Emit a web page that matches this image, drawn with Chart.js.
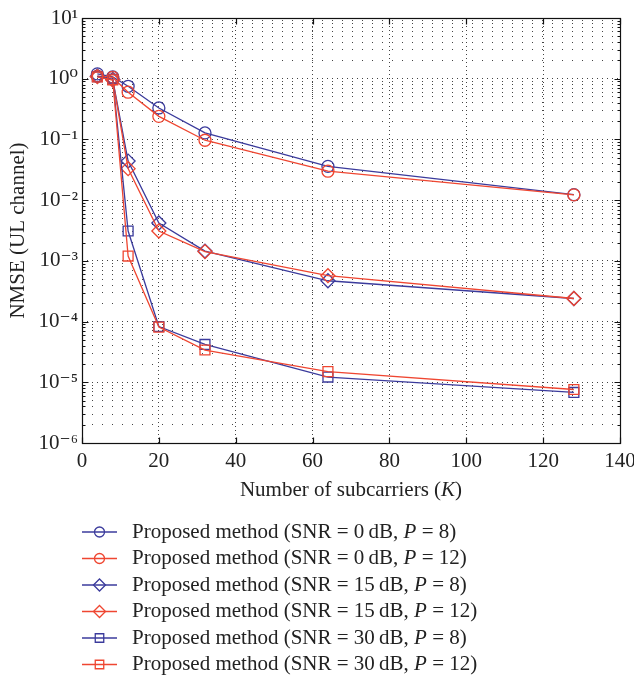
<!DOCTYPE html>
<html>
<head>
<meta charset="utf-8">
<script src="https://cdn.jsdelivr.net/npm/chart.js@4.4.1/dist/chart.umd.min.js"></script>
<style>
    html, body { margin: 0; padding: 0; background: #fff; }
    #quadro { width: 634px; height: 680px; position: relative; }
</style>
</head>
<body>
<div id="quadro"><canvas id="grafico"></canvas></div>
<script>
// numero de subportadoras K
const subportadoras = [4, 8, 12, 20, 32, 64, 128];

// NMSE do canal UL para cada curva
const snr0P8   = [1.2, 1.07, 0.75, 0.33, 0.128, 0.036, 0.0123];
const snr0P12  = [1.1, 1.05, 0.60, 0.24, 0.097, 0.030, 0.0122];
const snr15P8  = [1.1, 0.97, 0.044, 0.0042, 0.00145, 0.00047, 0.00024];
const snr15P12 = [1.08, 0.95, 0.033, 0.0031, 0.00142, 0.00057, 0.00024];
const snr30P8  = [1.08, 0.98, 0.0031, 0.000083, 0.000042, 0.0000122, 0.0000068];
const snr30P12 = [1.07, 0.96, 0.0012, 0.000081, 0.000034, 0.000015, 0.0000076];

const legendas = [
    'Proposed method (SNR = 0\u2009dB, P = 8)',
    'Proposed method (SNR = 0\u2009dB, P = 12)',
    'Proposed method (SNR = 15\u2009dB, P = 8)',
    'Proposed method (SNR = 15\u2009dB, P = 12)',
    'Proposed method (SNR = 30\u2009dB, P = 8)',
    'Proposed method (SNR = 30\u2009dB, P = 12)'
];

const ticksX = [0, 20, 40, 60, 80, 100, 120, 140];
const decadas = [-6, -5, -4, -3, -2, -1, 0, 1];

const azul = '#3b3b9c';
const vermelho = '#ef4631';
const fonte = '"Liberation Serif", "DejaVu Serif", serif';
const tamanhoFonte = 21;
const superscritos = { '-': '\u207b', '0': '\u2070', '1': '\u00b9', '2': '\u00b2', '3': '\u00b3',
    '4': '\u2074', '5': '\u2075', '6': '\u2076', '7': '\u2077', '8': '\u2078', '9': '\u2079' };

function potencia(exp) {
    return '10' + String(exp).split('').map(c => superscritos[c]).join('');
}

function serie(label, valores, cor, estilo, raio, ordem) {
    return {
        label: label,
        data: subportadoras.map((k, i) => ({ x: k, y: valores[i] })),
        borderColor: cor,
        backgroundColor: cor,
        borderWidth: 1.3,
        pointStyle: estilo,
        pointRadius: raio,
        pointBorderColor: cor,
        pointBackgroundColor: 'rgba(0,0,0,0)',
        pointBorderWidth: 1.3,
        tension: 0,
        order: ordem
    };
}

// texto com as letras P e K em italico
function textoRico(ctx, texto, x, y, tamanho, centro) {
    const partes = texto.split(/\b([PK])\b/);
    let largura = 0;
    partes.forEach((p, i) => {
        ctx.font = (i % 2 ? 'italic ' : '') + tamanho + 'px ' + fonte;
        largura += ctx.measureText(p).width;
    });
    let cx = centro ? x - largura / 2 : x;
    ctx.textBaseline = 'middle';
    ctx.textAlign = 'left';
    partes.forEach((p, i) => {
        ctx.font = (i % 2 ? 'italic ' : '') + tamanho + 'px ' + fonte;
        ctx.fillText(p, cx, y);
        cx += ctx.measureText(p).width;
    });
}

// caixa com marcas para dentro, estilo matlab
const moldura = {
    id: 'moldura',
    afterDatasetsDraw(chart) {
        const { ctx, chartArea: a, scales } = chart;
        const l = Math.round(a.left) + 0.5, r = Math.round(a.right) + 0.5;
        const t = Math.round(a.top) + 0.5, b = Math.round(a.bottom) + 0.5;
        ctx.save();
        ctx.strokeStyle = '#111';
        ctx.lineWidth = 1.2;
        ctx.beginPath();
        scales.x.ticks.forEach(tk => {
            const px = Math.round(scales.x.getPixelForValue(tk.value)) + 0.5;
            ctx.moveTo(px, b); ctx.lineTo(px, b - 6);
            ctx.moveTo(px, t); ctx.lineTo(px, t + 6);
        });
        scales.y.ticks.forEach(tk => {
            const py = Math.round(scales.y.getPixelForValue(tk.value)) + 0.5;
            const tam = tk.major ? 6 : 3;
            ctx.moveTo(l, py); ctx.lineTo(l + tam, py);
            ctx.moveTo(r, py); ctx.lineTo(r - tam, py);
        });
        ctx.stroke();
        ctx.strokeRect(l, t, r - l, b - t);
        ctx.restore();
    }
};

// titulo do eixo x e legenda abaixo do grafico
const legendaManual = {
    id: 'legendaManual',
    afterDraw(chart) {
        const { ctx, chartArea: a } = chart;
        ctx.save();
        ctx.fillStyle = '#222';
        textoRico(ctx, 'Number of subcarriers (K)', (a.left + a.right) / 2, a.bottom + 47, tamanhoFonte, true);

        chart.data.datasets.forEach((ds, i) => {
            const yy = a.bottom + 89 + i * 26.5;
            ctx.strokeStyle = ds.borderColor;
            ctx.lineWidth = 1.3;
            ctx.beginPath();
            ctx.moveTo(a.left, yy);
            ctx.lineTo(a.left + 35, yy);
            ctx.stroke();
            ctx.fillStyle = 'rgba(0,0,0,0)';
            Chart.helpers.drawPoint(ctx, {
                pointStyle: ds.pointStyle,
                radius: ds.pointRadius - 1,
                rotation: 0,
                borderWidth: 1.3
            }, a.left + 17.5, yy);
            ctx.fillStyle = '#222';
            textoRico(ctx, ds.label, a.left + 50, yy, tamanhoFonte, false);
        });
        ctx.restore();
    }
};

const ctx1 = document.getElementById('grafico');

new Chart(ctx1, {
    type: 'line',
    data: {
        datasets: [
            serie(legendas[0], snr0P8, azul, 'circle', 6, 5),
            serie(legendas[1], snr0P12, vermelho, 'circle', 6, 4),
            serie(legendas[2], snr15P8, azul, 'rectRot', 7, 3),
            serie(legendas[3], snr15P12, vermelho, 'rectRot', 7, 2),
            serie(legendas[4], snr30P8, azul, 'rect', 7, 1),
            serie(legendas[5], snr30P12, vermelho, 'rect', 7, 0)
        ]
    },
    options: {
        responsive: true,
        maintainAspectRatio: false,
        animation: false,
        layout: {
            padding: { top: 18, right: 14, left: 0, bottom: 0 }
        },
        plugins: {
            legend: { display: false },
            tooltip: { enabled: false }
        },
        scales: {
            x: {
                type: 'linear',
                min: 0,
                max: 140,
                afterBuildTicks: (scale) => {
                    scale.ticks = ticksX.map(v => ({ value: v }));
                },
                afterFit: (scale) => {
                    scale.height = 237;
                    scale.paddingLeft = 0;
                    scale.paddingRight = 0;
                },
                grid: {
                    color: '#444',
                    lineWidth: 1,
                    drawTicks: false
                },
                border: { display: false, dash: [1, 3] },
                ticks: {
                    padding: 6,
                    color: '#222',
                    font: { family: fonte, size: tamanhoFonte },
                    maxRotation: 0,
                    autoSkip: false
                }
            },
            y: {
                type: 'logarithmic',
                min: 1e-6,
                max: 10,
                afterBuildTicks: (scale) => {
                    let lista = [];
                    decadas.forEach(d => {
                        lista.push({ value: Math.pow(10, d), major: true });
                        if (d < 1) {
                            for (let m = 2; m <= 9; m++) {
                                lista.push({ value: m * Math.pow(10, d), major: false });
                            }
                        }
                    });
                    scale.ticks = lista;
                },
                afterFit: (scale) => {
                    scale.width = 82;
                },
                grid: {
                    color: '#444',
                    lineWidth: 1,
                    drawTicks: false
                },
                border: {
                    display: false,
                    dash: (c) => (c.tick && c.tick.major) ? [1, 4] : [1, 9]
                },
                ticks: {
                    padding: 4,
                    color: '#222',
                    font: { family: fonte, size: tamanhoFonte },
                    autoSkip: false,
                    callback: (valor) => {
                        const exp = Math.round(Math.log10(valor));
                        return Math.abs(valor - Math.pow(10, exp)) < 1e-12 * Math.pow(10, exp) + 1e-20 ? potencia(exp) : '';
                    }
                },
                title: {
                    display: true,
                    text: 'NMSE (UL channel)',
                    color: '#222',
                    font: { family: fonte, size: tamanhoFonte },
                    padding: { top: 6, bottom: 0 }
                }
            }
        }
    },
    plugins: [moldura, legendaManual]
});
</script>
</body>
</html>
